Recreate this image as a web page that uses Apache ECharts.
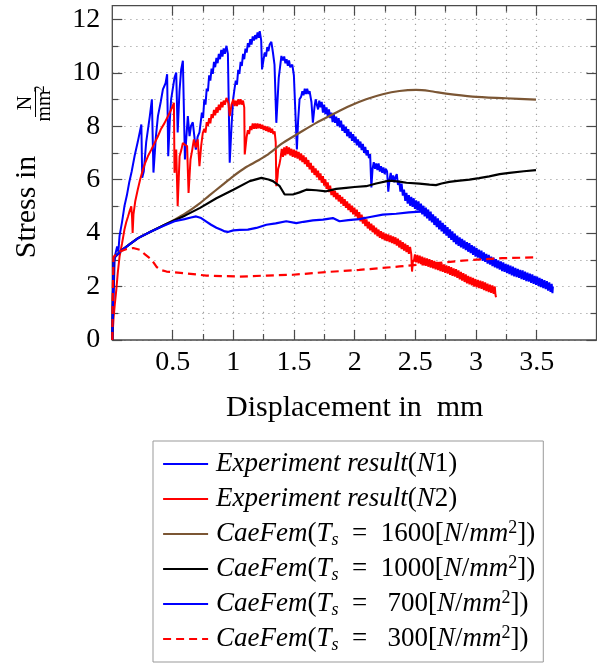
<!DOCTYPE html>
<html><head><meta charset="utf-8">
<script src="https://cdn.jsdelivr.net/npm/echarts@6/dist/echarts.min.js"></script>
<style>html,body{margin:0;padding:0;background:#fff}#c{width:597px;height:664px}</style>
</head><body><div id="c"></div>
<script>
// ---------- data ----------
const xTickLabels = ['0.5','1','1.5','2','2.5','3','3.5'];
const yTickLabels = ['0','2','4','6','8','10','12'];

const expN1 = [[0,0],[0.01,1.5],[0.02,3.1],[0.04,3.5],[0.05,3.3],[0.06,3.9],[0.08,4.4],[0.1,5.0],[0.12,5.4],[0.14,5.9],[0.16,6.3],[0.185,6.9],[0.21,7.4],[0.24,8.06],[0.247,6.07],[0.26,6.3],[0.28,7.4],[0.31,8.37],[0.327,9.0],[0.34,6.26],[0.36,7.6],[0.377,8.37],[0.40,8.9],[0.418,9.37],[0.44,9.6],[0.453,9.94],[0.462,6.87],[0.475,8.2],[0.486,9.0],[0.514,9.81],[0.528,10.0],[0.54,7.76],[0.555,9.3],[0.569,10.12],[0.583,10.44],[0.6,6.75],[0.612,7.6],[0.624,8.37],[0.638,7.62],[0.65,8.0],[0.665,8.14],[0.69,7.12],[0.705,7.6],[0.72,7.76],[0.74,8.5],[0.75,8.3],[0.76,9.0],[0.77,8.8],[0.78,9.4],[0.79,9.3],[0.80,9.9],[0.81,9.7],[0.82,10.15],[0.83,9.95],[0.84,10.4],[0.85,10.2],[0.86,10.55],[0.87,10.35],[0.88,10.7],[0.89,10.5],[0.90,10.85],[0.91,10.6],[0.92,10.9],[0.93,10.7],[0.943,11.0],[0.955,10.7],[0.97,6.63],[0.985,8.0],[0.998,9.0],[1.01,9.4],[1.02,9.7],[1.03,9.55],[1.04,10.1],[1.05,9.95],[1.06,10.4],[1.07,10.25],[1.08,10.7],[1.09,10.5],[1.10,10.9],[1.11,10.75],[1.12,11.1],[1.13,10.95],[1.14,11.25],[1.15,11.05],[1.16,11.35],[1.17,11.2],[1.18,11.4],[1.19,11.25],[1.20,11.5],[1.21,11.3],[1.218,11.55],[1.23,11.2],[1.237,10.12],[1.25,10.5],[1.26,10.75],[1.27,10.6],[1.28,10.95],[1.29,10.8],[1.30,11.05],[1.314,11.15],[1.327,10.75],[1.34,10.3],[1.355,8.12],[1.375,9.8],[1.397,10.62],[1.41,10.45],[1.42,10.6],[1.43,10.35],[1.44,10.5],[1.45,10.25],[1.46,10.45],[1.47,10.2],[1.487,10.3],[1.5,9.9],[1.525,7.12],[1.535,8.2],[1.547,9.0],[1.56,9.1],[1.57,9.3],[1.58,9.15],[1.59,9.4],[1.60,9.2],[1.61,9.4],[1.62,9.2],[1.63,9.3],[1.645,8.9],[1.657,8.13],[1.67,8.7],[1.68,9.0],[1.69,8.8],[1.70,8.62],[1.71,8.95],[1.72,8.7],[1.73,8.9],[1.74,8.5],[1.75,8.8],[1.76,8.45],[1.77,8.7],[1.78,8.35],[1.79,8.62],[1.80,8.3],[1.81,8.5],[1.82,8.15],[1.83,8.45],[1.84,8.12],[1.85,8.35],[1.86,8.0],[1.87,8.3],[1.88,7.95],[1.89,8.2],[1.90,7.82],[1.91,8.05],[1.92,7.75],[1.93,7.98],[1.94,7.62],[1.95,7.88],[1.96,7.55],[1.97,7.78],[1.98,7.45],[1.99,7.7],[2.00,7.38],[2.01,7.6],[2.02,7.28],[2.03,7.5],[2.04,7.2],[2.05,7.42],[2.06,7.1],[2.07,7.33],[2.08,7.0],[2.09,7.22],[2.10,6.9],[2.11,7.1],[2.12,6.8],[2.13,6.95],[2.14,5.7],[2.15,6.4],[2.16,6.65],[2.17,6.4],[2.18,6.6],[2.19,6.35],[2.20,6.6],[2.21,6.3],[2.22,6.5],[2.23,6.25],[2.24,6.45],[2.25,6.2],[2.26,6.4],[2.27,6.3],[2.28,5.55],[2.29,6.0],[2.30,6.25],[2.31,5.95],[2.32,6.15],[2.33,5.9],[2.34,6.1],[2.35,6.2],[2.36,5.8],[2.37,5.95],[2.38,5.55],[2.39,5.85],[2.40,5.4],[2.41,5.62],[2.42,5.2],[2.43,5.5],[2.44,5.1],[2.45,5.42],[2.46,5.02],[2.47,5.35],[2.48,4.98],[2.49,5.3],[2.50,4.9],[2.51,5.22],[2.52,4.85],[2.53,5.18],[2.54,4.78],[2.55,5.1],[2.56,4.7],[2.57,5.02],[2.58,4.62],[2.59,4.95],[2.60,4.55],[2.61,4.88],[2.62,4.46],[2.63,4.8],[2.64,4.4],[2.65,4.7],[2.66,4.3],[2.67,4.62],[2.68,4.22],[2.69,4.55],[2.70,4.14],[2.71,4.46],[2.72,4.06],[2.73,4.38],[2.74,3.98],[2.75,4.3],[2.76,3.9],[2.77,4.22],[2.78,3.82],[2.79,4.14],[2.80,3.74],[2.81,4.06],[2.82,3.66],[2.83,3.98],[2.84,3.58],[2.85,3.9],[2.86,3.52],[2.87,3.84],[2.88,3.46],[2.89,3.78],[2.90,3.42],[2.91,3.72],[2.92,3.36],[2.93,3.66],[2.94,3.3],[2.95,3.62],[2.96,3.25],[2.97,3.55],[2.98,3.18],[2.99,3.5],[3.00,3.12],[3.01,3.44],[3.02,3.08],[3.03,3.38],[3.04,3.02],[3.05,3.34],[3.06,2.96],[3.07,3.28],[3.08,2.92],[3.09,3.22],[3.10,2.86],[3.11,3.18],[3.12,2.82],[3.13,3.12],[3.14,2.76],[3.15,3.08],[3.16,2.72],[3.17,3.02],[3.18,2.68],[3.19,2.98],[3.20,2.63],[3.21,2.94],[3.22,2.58],[3.23,2.9],[3.24,2.55],[3.25,2.85],[3.26,2.5],[3.27,2.82],[3.28,2.46],[3.29,2.78],[3.30,2.42],[3.31,2.74],[3.32,2.38],[3.33,2.7],[3.34,2.35],[3.35,2.66],[3.36,2.32],[3.37,2.62],[3.38,2.28],[3.39,2.6],[3.40,2.25],[3.41,2.56],[3.42,2.2],[3.43,2.52],[3.44,2.18],[3.45,2.48],[3.46,2.14],[3.47,2.45],[3.48,2.1],[3.49,2.4],[3.50,2.06],[3.51,2.37],[3.52,2.02],[3.53,2.32],[3.54,1.98],[3.55,2.28],[3.56,1.94],[3.57,2.24],[3.58,1.9],[3.59,2.2],[3.60,1.85],[3.61,2.15],[3.62,1.8],[3.63,2.1],[3.636,1.75],[3.64,2.0]];

const expN2 = [[0,0],[0.01,0.8],[0.02,1.3],[0.033,1.87],[0.045,2.5],[0.06,3.12],[0.08,3.6],[0.1,4.12],[0.115,4.4],[0.13,4.62],[0.145,4.85],[0.157,5.0],[0.163,4.6],[0.168,4.0],[0.175,4.7],[0.19,5.2],[0.21,5.62],[0.23,6.0],[0.253,6.37],[0.27,6.6],[0.294,6.87],[0.32,7.1],[0.35,7.37],[0.375,7.6],[0.4,7.87],[0.43,8.1],[0.46,8.37],[0.485,8.6],[0.509,8.87],[0.514,6.25],[0.528,7.12],[0.54,5.0],[0.556,6.87],[0.57,7.1],[0.583,7.37],[0.6,7.3],[0.618,7.25],[0.63,5.5],[0.646,6.75],[0.66,7.1],[0.674,7.5],[0.69,7.2],[0.706,7.5],[0.72,6.5],[0.735,7.3],[0.748,7.75],[0.76,7.9],[0.77,7.75],[0.78,8.15],[0.79,8.0],[0.80,8.3],[0.81,8.1],[0.82,8.45],[0.83,8.3],[0.84,8.6],[0.85,8.4],[0.86,8.7],[0.87,8.5],[0.88,8.8],[0.89,8.6],[0.90,8.9],[0.91,8.7],[0.92,8.95],[0.93,8.8],[0.943,9.05],[0.96,8.85],[0.97,8.37],[0.985,8.8],[1.00,9.0],[1.01,8.75],[1.02,8.95],[1.03,8.75],[1.04,9.0],[1.05,8.8],[1.06,9.0],[1.07,8.8],[1.08,8.95],[1.09,8.7],[1.094,6.94],[1.11,7.6],[1.12,7.85],[1.13,7.7],[1.14,8.0],[1.15,7.85],[1.16,8.1],[1.17,7.9],[1.18,8.1],[1.19,7.9],[1.20,8.1],[1.21,7.92],[1.22,8.08],[1.23,7.9],[1.24,8.05],[1.25,7.85],[1.26,8.0],[1.27,7.82],[1.28,7.98],[1.29,7.78],[1.30,7.95],[1.31,7.75],[1.32,7.9],[1.33,7.7],[1.341,7.8],[1.35,7.4],[1.355,5.75],[1.365,6.1],[1.37,6.4],[1.38,6.55],[1.39,6.8],[1.40,7.15],[1.41,6.85],[1.42,7.2],[1.43,6.9],[1.44,7.25],[1.45,6.95],[1.46,7.2],[1.47,6.9],[1.48,7.15],[1.49,6.85],[1.50,7.12],[1.51,6.82],[1.52,7.08],[1.53,6.78],[1.54,7.03],[1.55,6.72],[1.56,6.98],[1.57,6.65],[1.58,6.9],[1.59,6.58],[1.60,6.83],[1.61,6.48],[1.62,6.73],[1.63,6.38],[1.64,6.62],[1.65,6.26],[1.66,6.51],[1.67,6.17],[1.68,6.42],[1.69,6.08],[1.70,6.33],[1.71,5.98],[1.72,6.23],[1.73,5.88],[1.74,6.13],[1.75,5.77],[1.76,6.01],[1.77,5.65],[1.78,5.89],[1.79,5.53],[1.80,5.77],[1.81,5.42],[1.82,5.65],[1.83,5.34],[1.84,5.58],[1.85,5.26],[1.86,5.5],[1.87,5.18],[1.88,5.42],[1.89,5.1],[1.90,5.35],[1.91,5.02],[1.92,5.27],[1.93,4.94],[1.94,5.18],[1.95,4.86],[1.96,5.1],[1.97,4.78],[1.98,5.02],[1.99,4.7],[2.00,4.95],[2.01,4.62],[2.02,4.87],[2.03,4.53],[2.04,4.78],[2.05,4.44],[2.06,4.69],[2.07,4.35],[2.08,4.6],[2.09,4.26],[2.10,4.51],[2.11,4.17],[2.12,4.42],[2.13,4.1],[2.14,4.35],[2.15,4.03],[2.16,4.28],[2.17,3.95],[2.18,4.2],[2.19,3.88],[2.20,4.13],[2.21,3.82],[2.22,4.07],[2.23,3.77],[2.24,4.02],[2.25,3.73],[2.26,3.98],[2.27,3.7],[2.28,3.95],[2.29,3.66],[2.30,3.91],[2.31,3.62],[2.32,3.87],[2.33,3.59],[2.34,3.84],[2.35,3.53],[2.36,3.79],[2.37,3.46],[2.38,3.72],[2.39,3.4],[2.40,3.66],[2.41,3.34],[2.42,3.6],[2.43,3.29],[2.44,3.55],[2.45,3.22],[2.46,3.48],[2.47,3.2],[2.476,2.56],[2.485,3.0],[2.49,2.92],[2.50,3.2],[2.51,2.9],[2.52,3.18],[2.53,2.87],[2.54,3.15],[2.55,2.84],[2.56,3.12],[2.57,2.8],[2.58,3.08],[2.59,2.77],[2.60,3.05],[2.61,2.74],[2.62,3.02],[2.63,2.71],[2.64,2.99],[2.65,2.68],[2.66,2.96],[2.67,2.64],[2.68,2.92],[2.69,2.61],[2.70,2.89],[2.71,2.58],[2.72,2.86],[2.73,2.55],[2.74,2.83],[2.75,2.51],[2.76,2.79],[2.77,2.48],[2.78,2.76],[2.79,2.44],[2.80,2.72],[2.81,2.4],[2.82,2.68],[2.83,2.37],[2.84,2.65],[2.85,2.32],[2.86,2.6],[2.87,2.27],[2.88,2.55],[2.89,2.22],[2.90,2.5],[2.91,2.17],[2.92,2.45],[2.93,2.12],[2.94,2.4],[2.95,2.08],[2.96,2.36],[2.97,2.04],[2.98,2.32],[2.99,2.0],[3.00,2.28],[3.01,1.97],[3.02,2.25],[3.03,1.94],[3.04,2.22],[3.05,1.91],[3.06,2.19],[3.07,1.87],[3.08,2.15],[3.09,1.83],[3.10,2.11],[3.11,1.79],[3.12,2.07],[3.13,1.76],[3.14,2.04],[3.15,1.73],[3.16,2.0],[3.165,1.7],[3.17,1.6]];

const fem1600 = [[0,0],[0.01,2.9],[0.02,3.1],[0.074,3.34],[0.15,3.6],[0.213,3.81],[0.32,4.06],[0.42,4.28],[0.514,4.5],[0.6,4.72],[0.725,5.12],[0.8,5.4],[0.9,5.76],[0.998,6.12],[1.1,6.45],[1.2,6.7],[1.273,6.9],[1.41,7.37],[1.547,7.75],[1.685,8.12],[1.822,8.44],[1.96,8.75],[2.097,9.0],[2.234,9.19],[2.372,9.31],[2.51,9.35],[2.62,9.31],[2.757,9.21],[2.976,9.1],[3.25,9.04],[3.5,8.99]];

const fem1000 = [[0,0],[0.01,2.9],[0.02,3.1],[0.074,3.34],[0.15,3.6],[0.213,3.81],[0.32,4.06],[0.42,4.28],[0.514,4.48],[0.6,4.65],[0.725,4.94],[0.86,5.3],[1.0,5.62],[1.135,5.94],[1.232,6.06],[1.29,6.0],[1.327,5.94],[1.383,5.75],[1.424,5.44],[1.492,5.44],[1.547,5.52],[1.603,5.62],[1.685,5.6],[1.767,5.56],[1.85,5.65],[1.932,5.69],[2.0,5.72],[2.097,5.75],[2.18,5.85],[2.289,5.96],[2.372,5.92],[2.43,5.88],[2.537,5.85],[2.62,5.81],[2.674,5.79],[2.72,5.85],[2.784,5.91],[2.85,5.95],[2.95,6.0],[3.03,6.05],[3.114,6.12],[3.2,6.2],[3.28,6.25],[3.4,6.31],[3.5,6.35]];

const fem700 = [[0,0],[0.01,2.9],[0.02,3.1],[0.074,3.34],[0.15,3.6],[0.213,3.81],[0.32,4.06],[0.42,4.26],[0.514,4.44],[0.597,4.52],[0.65,4.58],[0.693,4.62],[0.734,4.56],[0.78,4.42],[0.816,4.31],[0.86,4.2],[0.9,4.12],[0.93,4.06],[0.954,4.04],[1.0,4.1],[1.053,4.12],[1.12,4.13],[1.19,4.19],[1.273,4.31],[1.35,4.36],[1.437,4.44],[1.52,4.37],[1.58,4.42],[1.657,4.47],[1.74,4.5],[1.822,4.56],[1.877,4.44],[1.95,4.48],[2.04,4.52],[2.13,4.6],[2.234,4.69],[2.345,4.72],[2.45,4.77],[2.578,4.81]];

const fem300 = [[0,0],[0.005,2.0],[0.01,3.1],[0.04,3.25],[0.063,3.31],[0.12,3.4],[0.173,3.44],[0.228,3.37],[0.27,3.2],[0.31,3.06],[0.34,2.9],[0.366,2.73],[0.4,2.62],[0.448,2.56],[0.585,2.5],[0.778,2.41],[1.053,2.37],[1.273,2.41],[1.492,2.44],[1.767,2.54],[2.04,2.62],[2.372,2.75],[2.62,2.85],[2.894,2.97],[3.22,3.06],[3.5,3.09]];

const seriesNames = ['N1','N2','T1600','T1000','T700','T300'];
const legendTexts = {
  N1: '{i|Experiment result}{r|(}{i|N}{r|1)}',
  N2: '{i|Experiment result}{r|(}{i|N}{r|2)}',
  T1600: '{i|CaeFem}{r|(}{i|T}{sub|s}{r|  =  1600[}{i|N}{r|/}{i|mm}{sup|2}{r|])}',
  T1000: '{i|CaeFem}{r|(}{i|T}{sub|s}{r|  =  1000[}{i|N}{r|/}{i|mm}{sup|2}{r|])}',
  T700:  '{i|CaeFem}{r|(}{i|T}{sub|s}{r|  =   700[}{i|N}{r|/}{i|mm}{sup|2}{r|])}',
  T300:  '{i|CaeFem}{r|(}{i|T}{sub|s}{r|  =   300[}{i|N}{r|/}{i|mm}{sup|2}{r|])}'
};

// ---------- chart ----------
const FONT = '"Liberation Serif","DejaVu Serif",serif';
const chart = echarts.init(document.getElementById('c'), null, {renderer: 'canvas'});
const AX = '#4a4a4a';
const GRIDLINE = {show: true, lineStyle: {color: '#a0a0a0', width: 1.2, type: [1.2, 4.8]}};

function xLab(v) {
  const i = Math.round((v - 0.5) / 0.5);
  return (Math.abs(v - 0.5 - i * 0.5) < 1e-6 && i >= 0 && i < xTickLabels.length) ? xTickLabels[i] : '';
}
function yLab(v) {
  const i = Math.round(v / 2);
  return (Math.abs(v - i * 2) < 1e-6 && i >= 0 && i < yTickLabels.length) ? yTickLabels[i] : '';
}
const tickCommon = {
  axisLine: {show: false},
  axisTick: {show: true, inside: true, length: 10, lineStyle: {color: AX, width: 1.2}},
  minorTick: {show: true, splitNumber: 2, length: 6, lineStyle: {color: AX, width: 1.2}}
};

const option = {
  animation: false,
  backgroundColor: '#fff',
  grid: [
    {left: 112.3, right: 0.5, top: 5.7, bottom: 324, show: true, borderColor: AX, borderWidth: 1.3, backgroundColor: 'transparent', z: 3},
    {left: 172.7, right: 60.3, top: 5.7, bottom: 324},
    {left: 112.3, right: 0.5, top: 19.3, bottom: 324}
  ],
  xAxis: [
    {gridIndex: 0, type: 'value', min: 0, max: 4, show: false},
    Object.assign({gridIndex: 1, type: 'value', min: 0.5, max: 3.5, interval: 0.5, position: 'bottom',
      axisLabel: {formatter: xLab, fontFamily: FONT, fontSize: 28, color: '#000', margin: 9},
      splitLine: GRIDLINE, minorSplitLine: GRIDLINE,
      name: 'Displacement in  mm', nameLocation: 'middle', nameGap: 53,
      nameTextStyle: {fontFamily: FONT, fontSize: 30, color: '#000'}}, tickCommon),
    Object.assign({gridIndex: 1, type: 'value', min: 0.5, max: 3.5, interval: 0.5, position: 'top',
      axisLabel: {show: false}, splitLine: {show: false}}, tickCommon),
    {gridIndex: 2, type: 'value', min: 0, max: 4, show: false}
  ],
  yAxis: [
    {gridIndex: 0, type: 'value', min: 0, max: 12.5, show: false},
    Object.assign({gridIndex: 2, type: 'value', min: 0, max: 12, interval: 2, position: 'left',
      axisLabel: {formatter: yLab, fontFamily: FONT, fontSize: 28, color: '#000', margin: 12},
      splitLine: GRIDLINE, minorSplitLine: GRIDLINE}, tickCommon),
    Object.assign({gridIndex: 2, type: 'value', min: 0, max: 12, interval: 2, position: 'right',
      axisLabel: {show: false}, splitLine: {show: false}}, tickCommon),
    {gridIndex: 1, type: 'value', min: 0, max: 1, show: false}
  ],
  legend: {
    left: 153, top: 441, orient: 'vertical',
    itemWidth: 45, itemHeight: 14, itemGap: 5,
    padding: [8, 8, 8, 9],
    borderColor: '#999', borderWidth: 1,
    data: seriesNames,
    itemStyle: {opacity: 0, color: 'transparent', borderWidth: 0},
    lineStyle: {width: 2.2},
    formatter: n => legendTexts[n],
    textStyle: {
      fontFamily: FONT, fontSize: 27, color: '#000', lineHeight: 30, padding: [0, 0, 0, 3],
      rich: {
        i: {fontFamily: FONT, fontSize: 27, fontStyle: 'italic', lineHeight: 30, color: '#000'},
        r: {fontFamily: FONT, fontSize: 27, lineHeight: 30, color: '#000'},
        sub: {fontFamily: FONT, fontSize: 18, fontStyle: 'italic', lineHeight: 16, verticalAlign: 'bottom', color: '#000'},
        sup: {fontFamily: FONT, fontSize: 18, lineHeight: 16, verticalAlign: 'top', color: '#000'}
      }
    }
  },
  graphic: [
    {type: 'text', x: 27, y: 207, rotation: Math.PI / 2,
      style: {text: 'Stress in', fontFamily: FONT, fontSize: 30, fill: '#000', align: 'center', verticalAlign: 'middle'}},
    {type: 'text', x: 26, y: 103, rotation: Math.PI / 2,
      style: {text: 'N', fontFamily: FONT, fontSize: 20, fill: '#000', align: 'center', verticalAlign: 'middle'}},
    {type: 'line', shape: {x1: 35.5, y1: 87, x2: 35.5, y2: 117}, style: {stroke: '#000', lineWidth: 1}},
    {type: 'text', x: 45, y: 106, rotation: Math.PI / 2,
      style: {text: 'mm', fontFamily: FONT, fontSize: 20, fill: '#000', align: 'center', verticalAlign: 'middle'}},
    {type: 'text', x: 40, y: 89, rotation: Math.PI / 2,
      style: {text: '2', fontFamily: FONT, fontSize: 14, fill: '#000', align: 'center', verticalAlign: 'middle'}}
  ],
  series: [
    {name: 'N1', type: 'line', data: expN1, xAxisIndex: 0, yAxisIndex: 0, symbol: 'none', lineStyle: {color: '#0000ff', width: 2}, itemStyle: {color: '#0000ff'}},
    {name: 'N2', type: 'line', data: expN2, xAxisIndex: 0, yAxisIndex: 0, symbol: 'none', lineStyle: {color: '#ff0000', width: 2}, itemStyle: {color: '#ff0000'}},
    {name: 'T1600', type: 'line', data: fem1600, xAxisIndex: 0, yAxisIndex: 0, symbol: 'none', smooth: 0.3, lineStyle: {color: '#7b5634', width: 2.2}, itemStyle: {color: '#7b5634'}},
    {name: 'T1000', type: 'line', data: fem1000, xAxisIndex: 0, yAxisIndex: 0, symbol: 'none', lineStyle: {color: '#000000', width: 2.2}, itemStyle: {color: '#000000'}},
    {name: 'T700', type: 'line', data: fem700, xAxisIndex: 0, yAxisIndex: 0, symbol: 'none', lineStyle: {color: '#0000ff', width: 2.2}, itemStyle: {color: '#0000ff'}},
    {name: 'T300', type: 'line', data: fem300, xAxisIndex: 0, yAxisIndex: 0, symbol: 'none', lineStyle: {color: '#ff0000', width: 2.2, type: [8, 5]}, itemStyle: {color: '#ff0000'}}
  ]
};
chart.setOption(option);
</script>
</body></html>
